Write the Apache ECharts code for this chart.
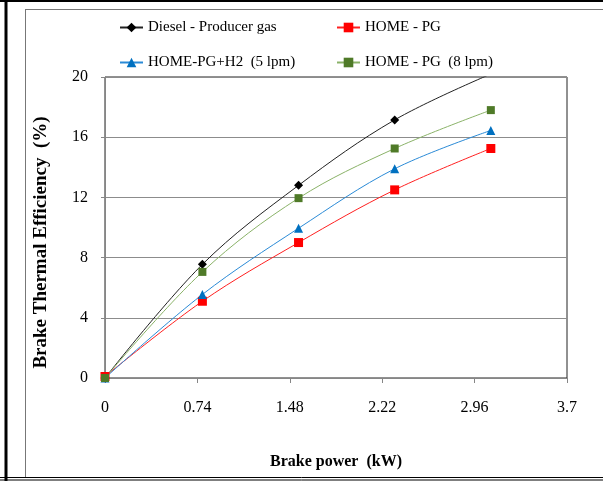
<!DOCTYPE html>
<html>
<head>
<meta charset="utf-8">
<script src="https://cdn.jsdelivr.net/npm/echarts@6/dist/echarts.min.js"></script>
<style>
  html, body { margin: 0; padding: 0; background: #fff; }
  #main { width: 603px; height: 481px; }
</style>
</head>
<body>
<div id="main"></div>
<script>
// brake power (kW) at which each reading was taken
const powerX = [0, 0.78, 1.55, 2.32, 3.09];
// brake thermal efficiency (%)
const dieselPG = [0, 7.55, 12.8, 17.15, 20.2];
const homePG = [0.1, 5.1, 9.0, 12.5, 15.25];
const homePGH2 = [0, 5.55, 9.95, 13.9, 16.45];
const homePG8 = [0, 7.05, 11.95, 15.25, 17.8];

const seriesNames = ['Diesel - Producer gas', 'HOME - PG', 'HOME-PG+H2  (5 lpm)', 'HOME - PG  (8 lpm)'];
const xTickLabels = ['0', '0.74', '1.48', '2.22', '2.96', '3.7'];
const yTickLabels = ['0', '4', '8', '12', '16', '20'];

const serif = '"Liberation Serif", "DejaVu Serif", serif';

function pairs(ys) {
  return ys.map((y, i) => [powerX[i], y]);
}

const chart = echarts.init(document.getElementById('main'));

// one legend per entry so the 2x2 layout sits where the original has it
function legendAt(name, left, top) {
  return {
    data: [name],
    left: left,
    top: top,
    padding: 0,
    itemWidth: 23,
    itemHeight: 12,
    itemGap: 4,
    textStyle: { fontFamily: serif, fontSize: 15, color: '#000' }
  };
}

const option = {
  backgroundColor: '#fff',
  animation: false,
  legend: [
    legendAt(seriesNames[0], 119, 20),
    legendAt(seriesNames[1], 336, 20),
    legendAt(seriesNames[2], 119, 55),
    legendAt(seriesNames[3], 336, 55)
  ],
  grid: {
    left: 105,
    right: 36,
    top: 77,
    bottom: 103,
    show: true,
    borderColor: '#222',
    borderWidth: 1
  },
  xAxis: {
    type: 'value',
    min: 0,
    max: 3.7,
    interval: 0.74,
    name: 'Brake power  (kW)',
    nameLocation: 'middle',
    nameGap: 76,
    nameTextStyle: { fontFamily: serif, fontSize: 16, fontWeight: 'bold', color: '#000' },
    axisLine: { lineStyle: { color: '#868686', width: 1 } },
    axisTick: { show: true, length: 5, lineStyle: { color: '#868686' } },
    axisLabel: {
      margin: 22,
      fontFamily: serif,
      fontSize: 16,
      color: '#000',
      formatter: v => xTickLabels[Math.round(v / 0.74)]
    },
    splitLine: { show: false }
  },
  yAxis: {
    type: 'value',
    min: 0,
    max: 20,
    interval: 4,
    name: 'Brake Thermal Efficiency  (%)',
    nameLocation: 'middle',
    nameRotate: 90,
    nameGap: 54,
    nameTextStyle: {
      fontFamily: serif,
      fontSize: 19,
      fontWeight: 'bold',
      color: '#000',
      padding: [0, 30, 0, 0]
    },
    axisLine: { show: true, lineStyle: { color: '#868686', width: 1 } },
    axisTick: { show: true, length: 4, lineStyle: { color: '#868686' } },
    axisLabel: {
      margin: 17,
      fontFamily: serif,
      fontSize: 16,
      color: '#000',
      formatter: v => yTickLabels[Math.round(v / 4)]
    },
    splitLine: { show: true, lineStyle: { color: '#8c8c8c', width: 1 } }
  },
  series: [
    {
      name: seriesNames[0],
      type: 'line',
      smooth: 0.35,
      data: pairs(dieselPG),
      symbol: 'diamond',
      symbolSize: 9,
      itemStyle: { color: '#000' },
      lineStyle: { color: '#222', width: 1 }
    },
    {
      name: seriesNames[1],
      type: 'line',
      smooth: 0.35,
      data: pairs(homePG),
      symbol: 'rect',
      symbolSize: 9,
      itemStyle: { color: '#ff0000' },
      lineStyle: { color: '#ff2020', width: 1 }
    },
    {
      name: seriesNames[2],
      type: 'line',
      smooth: 0.35,
      data: pairs(homePGH2),
      symbol: 'triangle',
      symbolSize: 9,
      itemStyle: { color: '#0070c0' },
      lineStyle: { color: '#2a8ad6', width: 1 }
    },
    {
      name: seriesNames[3],
      type: 'line',
      smooth: 0.35,
      data: pairs(homePG8),
      symbol: 'rect',
      symbolSize: 8,
      itemStyle: { color: '#4f7a28' },
      lineStyle: { color: '#8ab268', width: 1 }
    }
  ],
  // page frame around the figure (as in the scanned original)
  graphic: [
    { type: 'line', shape: { x1: 6, y1: 0, x2: 6, y2: 481 }, style: { stroke: '#000', lineWidth: 3 } },
    { type: 'line', shape: { x1: 0, y1: 1, x2: 603, y2: 1 }, style: { stroke: '#000', lineWidth: 2 } },
    { type: 'line', shape: { x1: 25, y1: 9.5, x2: 603, y2: 9.5 }, style: { stroke: '#777', lineWidth: 1 } },
    { type: 'line', shape: { x1: 25.5, y1: 9, x2: 25.5, y2: 478 }, style: { stroke: '#777', lineWidth: 1 } },
    { type: 'line', shape: { x1: 0, y1: 477.5, x2: 603, y2: 477.5 }, style: { stroke: '#000', lineWidth: 1 } },
    { type: 'line', shape: { x1: 0, y1: 480, x2: 603, y2: 480 }, style: { stroke: '#000', lineWidth: 1 } }
  ]
};

chart.setOption(option);
</script>
</body>
</html>
